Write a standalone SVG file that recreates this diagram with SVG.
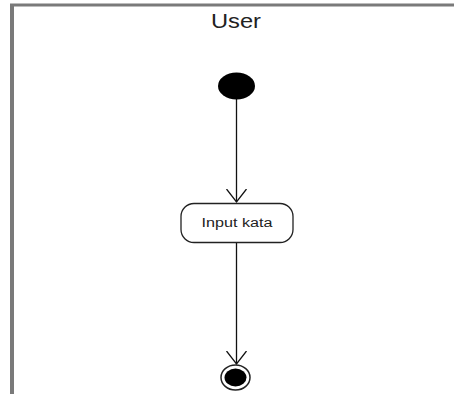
<svg xmlns="http://www.w3.org/2000/svg" width="454" height="394" viewBox="0 0 454 394">
  <style>
    .frame { stroke: #7a7a7a; fill: none; }
    .flow { stroke: #111; stroke-width: 1.3; fill: none; }
    .label { font-family: "Liberation Sans", Arial, sans-serif; fill: #222; }
  </style>
  <defs>
    <marker id="open-arrow" markerWidth="16" markerHeight="22" refX="13" refY="10" orient="auto" markerUnits="userSpaceOnUse" viewBox="0 0 16 20">
      <path d="M0,0 L13,10 L0,20" fill="none" stroke="#111" stroke-width="1.3"/>
    </marker>
  </defs>

  <rect width="454" height="394" fill="#fff"/>

  <!-- swimlane frame -->
  <g id="lane">
    <line class="frame" x1="10" y1="5" x2="454" y2="5" stroke-width="3"/>
    <line class="frame" x1="12" y1="4" x2="12" y2="394" stroke-width="4"/>
    <text class="label" x="236" y="28" font-size="20" text-anchor="middle" textLength="50" lengthAdjust="spacingAndGlyphs">User</text>
  </g>

  <!-- connectors -->
  <g id="connectors">
    <line class="flow" x1="236.5" y1="98" x2="236.5" y2="202" marker-end="url(#open-arrow)"/>
    <line class="flow" x1="236.5" y1="243" x2="236.5" y2="364" marker-end="url(#open-arrow)"/>
  </g>

  <!-- initial node -->
  <g id="start">
    <ellipse cx="236.5" cy="86" rx="18.5" ry="13.5" fill="#000"/>
  </g>

  <!-- activity -->
  <g id="input-kata">
    <rect x="181" y="203.5" width="112" height="39" rx="13" ry="13" fill="#fff" stroke="#222" stroke-width="1.3"/>
    <text class="label" x="237" y="227" font-size="12.5" text-anchor="middle" textLength="71" lengthAdjust="spacingAndGlyphs">Input kata</text>
  </g>

  <!-- final node -->
  <g id="end">
    <ellipse cx="235.5" cy="377.5" rx="14.5" ry="12.5" fill="#fff" stroke="#222" stroke-width="1.5"/>
    <ellipse cx="235.5" cy="377.5" rx="11" ry="9" fill="#000"/>
  </g>
</svg>
